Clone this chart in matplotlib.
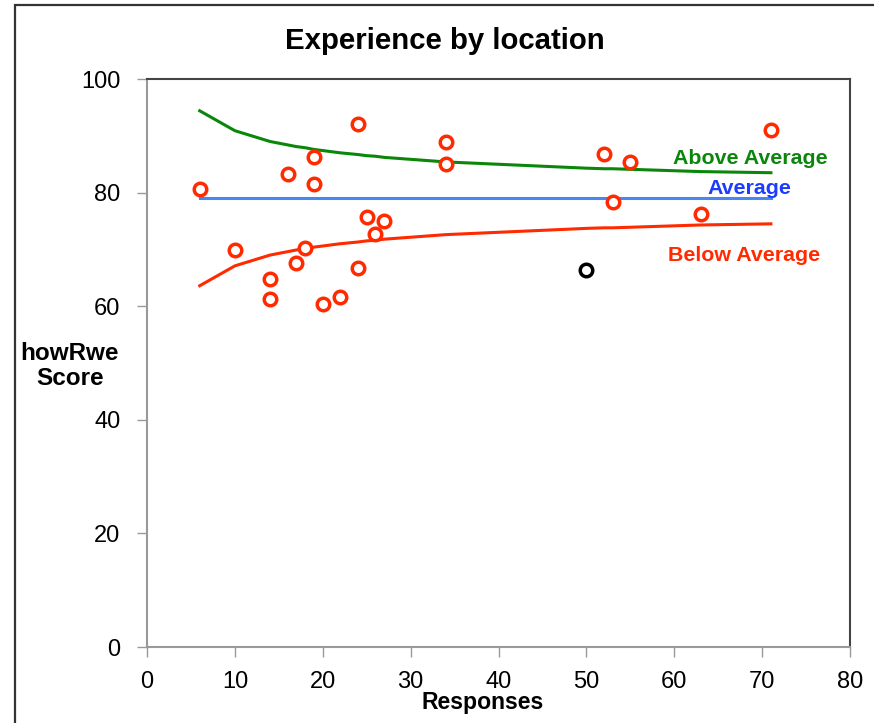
import matplotlib
matplotlib.use("Agg")
import matplotlib.pyplot as plt
from matplotlib.patches import Rectangle

plt.rcParams['font.family'] = ['Liberation Sans', 'DejaVu Sans']

# Location scores (responses, score)
resp_red = [6, 10, 14, 14, 16, 17, 18, 19, 19, 20, 22, 24, 24, 25, 26, 27, 34, 34, 52, 53, 55, 63, 71]
score_red = [80.6, 69.9, 64.8, 61.3, 83.3, 67.6, 70.3, 86.3, 81.6, 60.3, 61.7, 92.0, 66.7, 75.7, 72.7, 75.0,
             88.9, 85.0, 86.8, 78.3, 85.3, 76.3, 91.0]
resp_black = [50]
score_black = [66.3]

# Funnel limits
limit_x = [6, 10, 14, 16, 17, 18, 19, 20, 22, 24, 25, 26, 27, 34, 50, 52, 53, 55, 63, 71]
upper = [94.4, 90.9, 89.0, 88.4, 88.1, 87.9, 87.6, 87.4, 87.0, 86.7, 86.5, 86.4, 86.2, 85.4,
         84.3, 84.2, 84.2, 84.1, 83.7, 83.5]
lower = [63.6, 67.1, 69.0, 69.6, 69.9, 70.1, 70.4, 70.6, 71.0, 71.3, 71.5, 71.6, 71.8, 72.6,
         73.7, 73.8, 73.8, 73.9, 74.3, 74.5]
avg_x = [6, 71]
avg_y = [79, 79]

x_ticks = [0, 10, 20, 30, 40, 50, 60, 70, 80]
y_ticks = [0, 20, 40, 60, 80, 100]

RED = '#FF2A00'
GREEN = '#0A870A'
BLUE_LINE = '#4A86F0'
BLUE_TXT = '#1E3CFF'

fig = plt.figure(figsize=(8.74, 7.23), dpi=100)
fig.patch.set_facecolor('white')
fig.patches.append(Rectangle((15 / 874, -0.1), 1.2, 1.1 - 5 / 723, transform=fig.transFigure,
                             fill=False, edgecolor='#333333', linewidth=1.6, zorder=0))

ax = fig.add_axes([147 / 874, 1 - 647 / 723, 703 / 874, 568 / 723])

ax.plot(limit_x, upper, color=GREEN, lw=2.2, zorder=2)
ax.plot(limit_x, lower, color=RED, lw=2.2, zorder=2)
ax.plot(avg_x, avg_y, color=BLUE_LINE, lw=2.2, zorder=2)

ax.plot(resp_red, score_red, linestyle='none', marker='o', markersize=9,
        markerfacecolor='white', markeredgecolor=RED, markeredgewidth=2.5, zorder=3)
ax.plot(resp_black, score_black, linestyle='none', marker='o', markersize=9,
        markerfacecolor='white', markeredgecolor='black', markeredgewidth=2.5, zorder=3)

ax.text(68.6, 86.0, 'Above Average', color=GREEN, fontsize=15.4, fontweight='bold', ha='center', va='center')
ax.text(68.6, 80.8, 'Average', color=BLUE_TXT, fontsize=15.4, fontweight='bold', ha='center', va='center')
ax.text(68.0, 69.0, 'Below Average', color=RED, fontsize=15.4, fontweight='bold', ha='center', va='center')

ax.set_xlim(0, 80)
ax.set_ylim(0, 100)
ax.set_xticks(x_ticks)
ax.set_yticks(y_ticks)
ax.tick_params(axis='both', labelsize=17, color='#999999', direction='out', length=7, width=1)
ax.tick_params(axis='x', pad=10)
ax.tick_params(axis='y', pad=12)

for s in ['left', 'bottom']:
    ax.spines[s].set_color('#999999')
    ax.spines[s].set_linewidth(1.5)
for s in ['top', 'right']:
    ax.spines[s].set_color('#444444')
    ax.spines[s].set_linewidth(1.5)

fig.text(445 / 874, 1 - 41 / 723, 'Experience by location', fontsize=21.2, fontweight='bold',
         ha='center', va='center')
fig.text(483 / 874, 1 - 703 / 723, 'Responses', fontsize=16.6, fontweight='bold', ha='center', va='center')
fig.text(70 / 874, 1 - 366 / 723, 'howRwe\nScore', fontsize=17.5, fontweight='bold', ha='center', va='center',
         linespacing=1.1)

fig.savefig('out.png', dpi=100)
